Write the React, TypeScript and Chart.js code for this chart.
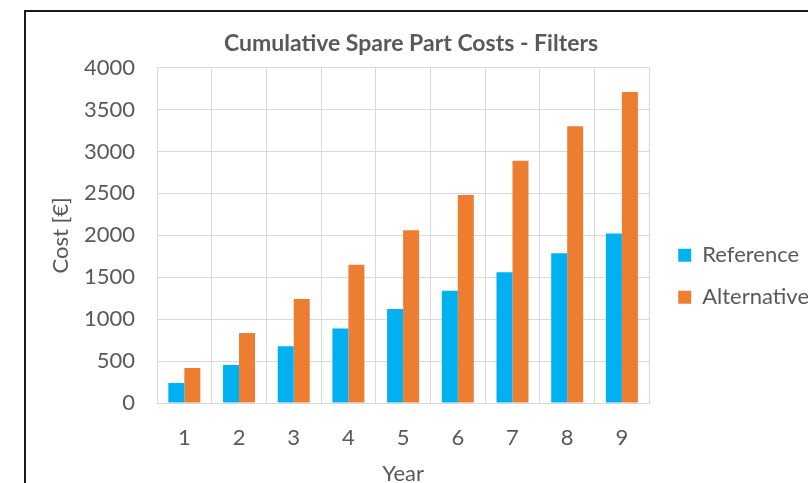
import React, { useEffect, useRef } from "react";
import { Chart, registerables } from "chart.js";

Chart.register(...registerables);

const categories = ["1", "2", "3", "4", "5", "6", "7", "8", "9"];
const referenceValues = [240, 452, 676, 888, 1120, 1340, 1560, 1785, 2020];
const alternativeValues = [418, 836, 1240, 1650, 2060, 2480, 2890, 3300, 3710];
const yTicks = [0, 500, 1000, 1500, 2000, 2500, 3000, 3500, 4000];

const TEXT = "#595959";
const GRID = "#D9D9D9";
const FONT = "Lato, 'Open Sans', sans-serif";

const boxShift = {
  id: "boxShift",
  afterLayout(chart: any) {
    const l = chart.legend;
    if (l) {
      l.left += 9;
      l.right += 9;
    }
    const t = chart.titleBlock;
    if (t) {
      t.left -= 11;
      t.right -= 11;
    }
  },
};

export default function App() {
  const ref = useRef<HTMLCanvasElement | null>(null);

  useEffect(() => {
    if (!ref.current) return;
    const chart = new Chart(ref.current, {
      type: "bar",
      plugins: [boxShift],
      data: {
        labels: categories,
        datasets: [
          {
            label: "Reference",
            data: referenceValues,
            backgroundColor: "#00B0F0",
            borderWidth: 0,
            barPercentage: 1,
            categoryPercentage: 0.585,
          },
          {
            label: "Alternative",
            data: alternativeValues,
            backgroundColor: "#ED7D31",
            borderWidth: 0,
            barPercentage: 1,
            categoryPercentage: 0.585,
          },
        ],
      },
      options: {
        animation: false,
        responsive: false,
        devicePixelRatio: 1,
        layout: { padding: { left: 8, right: 12, top: 0, bottom: 0 } },
        plugins: {
          title: {
            display: true,
            text: "Cumulative Spare Part Costs - Filters",
            color: TEXT,
            font: { family: FONT, size: 23, weight: "bold" },
            padding: { top: 18, bottom: 10 },
          },
          legend: {
            position: "right",
            title: {
              display: true,
              text: "",
              font: { family: FONT, size: 22 },
              padding: { top: 0, bottom: 26 },
            },
            labels: {
              color: TEXT,
              font: { family: FONT, size: 22 },
              boxWidth: 13,
              boxHeight: 13,
              padding: 20,
            },
          },
          tooltip: { enabled: false },
        },
        scales: {
          x: {
            grid: { color: GRID, drawTicks: false, offset: true },
            border: { color: GRID },
            ticks: { color: TEXT, font: { family: FONT, size: 22 }, padding: 22 },
            title: {
              display: true,
              text: "Year",
              color: TEXT,
              font: { family: FONT, size: 22 },
              padding: { top: 4, bottom: 1 },
            },
            afterFit: (scale: any) => {
              scale.height = 85;
            },
          },
          y: {
            min: 0,
            max: 4000,
            afterBuildTicks: (scale: any) => {
              scale.ticks = yTicks.map((v) => ({ value: v }));
            },
            grid: { color: GRID, drawTicks: false },
            border: { color: GRID },
            ticks: {
              color: TEXT,
              font: { family: FONT, size: 22 },
              padding: 22,
              callback: (v: any) => String(v),
            },
            title: {
              display: true,
              text: "Cost [€]",
              color: TEXT,
              font: { family: FONT, size: 22 },
              padding: { top: 14, bottom: 0 },
            },
            afterFit: (scale: any) => {
              scale.width = 123;
            },
          },
        },
      },
    });
    return () => chart.destroy();
  }, []);

  return (
    <div
      style={{
        position: "fixed",
        left: 0,
        top: 0,
        width: 808,
        height: 483,
        overflow: "hidden",
        background: "#fff",
      }}
    >
      <div
        style={{
          position: "absolute",
          left: 24,
          top: 10,
          width: 900,
          height: 600,
          border: "2px solid #1a1a1a",
          boxSizing: "border-box",
        }}
      />
      <canvas
        ref={ref}
        width={796}
        height={476}
        style={{ position: "absolute", left: 26, top: 12, width: 796, height: 476 }}
      />
    </div>
  );
}
